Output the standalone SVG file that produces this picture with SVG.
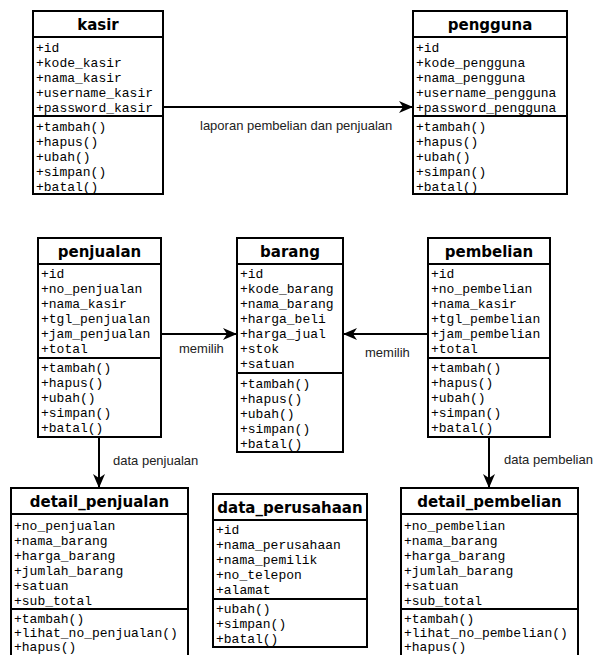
<svg xmlns="http://www.w3.org/2000/svg" width="594" height="655" viewBox="0 0 594 655">
<style>
.box{fill:#fff;stroke:#000;stroke-width:2}
.div{stroke:#000;stroke-width:2}
.t{font-family:"DejaVu Sans",sans-serif;font-weight:bold;font-size:15px;text-anchor:middle;fill:#000}
.m{font-family:"Liberation Mono",monospace;font-size:13px;fill:#000}
.lbl{font-family:"Liberation Sans",Arial,sans-serif;font-size:13px;fill:#222}
.con{stroke:#000;stroke-width:2;fill:none}
</style>
<defs>
<marker id="ah" viewBox="0 0 14 12" refX="13" refY="6" markerWidth="14" markerHeight="12" markerUnits="userSpaceOnUse" orient="auto">
<path d="M0,0 L14,6 L0,12 L4,6 Z" fill="#000"/>
</marker>
</defs>
<rect width="594" height="655" fill="#fff"/>

<g id="connectors">
<line class="con" x1="163" y1="107" x2="412" y2="107" marker-end="url(#ah)"/>
<text class="lbl" x="200" y="130">laporan pembelian dan penjualan</text>
<line class="con" x1="161" y1="334" x2="236" y2="334" marker-end="url(#ah)"/>
<text class="lbl" x="179" y="353">memilih</text>
<line class="con" x1="428" y1="334" x2="344" y2="334" marker-end="url(#ah)"/>
<text class="lbl" x="365" y="357">memilih</text>
<line class="con" x1="99" y1="437" x2="99" y2="487" marker-end="url(#ah)"/>
<text class="lbl" x="113" y="465">data penjualan</text>
<line class="con" x1="489" y1="437" x2="489" y2="487" marker-end="url(#ah)"/>
<text class="lbl" x="504" y="464">data pembelian</text>
</g>

<g id="kasir">
<rect class="box" x="33" y="11" width="130" height="183"/>
<line class="div" x1="33" y1="37" x2="163" y2="37"/>
<line class="div" x1="33" y1="116" x2="163" y2="116"/>
<text class="t" x="98" y="30">kasir</text>
<text class="m" x="36" y="52">+id</text>
<text class="m" x="36" y="67">+kode_kasir</text>
<text class="m" x="36" y="82">+nama_kasir</text>
<text class="m" x="36" y="97">+username_kasir</text>
<text class="m" x="36" y="112">+password_kasir</text>
<text class="m" x="36" y="131">+tambah()</text>
<text class="m" x="36" y="146">+hapus()</text>
<text class="m" x="36" y="161">+ubah()</text>
<text class="m" x="36" y="176">+simpan()</text>
<text class="m" x="36" y="191">+batal()</text>
</g>

<g id="pengguna">
<rect class="box" x="413" y="11" width="154" height="183"/>
<line class="div" x1="413" y1="37" x2="567" y2="37"/>
<line class="div" x1="413" y1="116" x2="567" y2="116"/>
<text class="t" x="490" y="30">pengguna</text>
<text class="m" x="416" y="52">+id</text>
<text class="m" x="416" y="67">+kode_pengguna</text>
<text class="m" x="416" y="82">+nama_pengguna</text>
<text class="m" x="416" y="97">+username_pengguna</text>
<text class="m" x="416" y="112">+password_pengguna</text>
<text class="m" x="416" y="131">+tambah()</text>
<text class="m" x="416" y="146">+hapus()</text>
<text class="m" x="416" y="161">+ubah()</text>
<text class="m" x="416" y="176">+simpan()</text>
<text class="m" x="416" y="191">+batal()</text>
</g>

<g id="penjualan">
<rect class="box" x="38" y="238" width="123" height="199"/>
<line class="div" x1="38" y1="264" x2="161" y2="264"/>
<line class="div" x1="38" y1="358" x2="161" y2="358"/>
<text class="t" x="99.5" y="257">penjualan</text>
<text class="m" x="41" y="278">+id</text>
<text class="m" x="41" y="293">+no_penjualan</text>
<text class="m" x="41" y="308">+nama_kasir</text>
<text class="m" x="41" y="323">+tgl_penjualan</text>
<text class="m" x="41" y="338">+jam_penjualan</text>
<text class="m" x="41" y="353">+total</text>
<text class="m" x="41" y="372">+tambah()</text>
<text class="m" x="41" y="387">+hapus()</text>
<text class="m" x="41" y="402">+ubah()</text>
<text class="m" x="41" y="417">+simpan()</text>
<text class="m" x="41" y="432">+batal()</text>
</g>

<g id="barang">
<rect class="box" x="237" y="238" width="106" height="214"/>
<line class="div" x1="237" y1="264" x2="343" y2="264"/>
<line class="div" x1="237" y1="373" x2="343" y2="373"/>
<text class="t" x="290" y="257">barang</text>
<text class="m" x="240" y="278">+id</text>
<text class="m" x="240" y="293">+kode_barang</text>
<text class="m" x="240" y="308">+nama_barang</text>
<text class="m" x="240" y="323">+harga_beli</text>
<text class="m" x="240" y="338">+harga_jual</text>
<text class="m" x="240" y="353">+stok</text>
<text class="m" x="240" y="368">+satuan</text>
<text class="m" x="240" y="388">+tambah()</text>
<text class="m" x="240" y="403">+hapus()</text>
<text class="m" x="240" y="418">+ubah()</text>
<text class="m" x="240" y="433">+simpan()</text>
<text class="m" x="240" y="448">+batal()</text>
</g>

<g id="pembelian">
<rect class="box" x="428" y="238" width="122" height="199"/>
<line class="div" x1="428" y1="264" x2="550" y2="264"/>
<line class="div" x1="428" y1="358" x2="550" y2="358"/>
<text class="t" x="489" y="257">pembelian</text>
<text class="m" x="431" y="278">+id</text>
<text class="m" x="431" y="293">+no_pembelian</text>
<text class="m" x="431" y="308">+nama_kasir</text>
<text class="m" x="431" y="323">+tgl_pembelian</text>
<text class="m" x="431" y="338">+jam_pembelian</text>
<text class="m" x="431" y="353">+total</text>
<text class="m" x="431" y="372">+tambah()</text>
<text class="m" x="431" y="387">+hapus()</text>
<text class="m" x="431" y="402">+ubah()</text>
<text class="m" x="431" y="417">+simpan()</text>
<text class="m" x="431" y="432">+batal()</text>
</g>

<g id="detail_penjualan">
<rect class="box" x="11" y="488" width="177" height="180"/>
<line class="div" x1="11" y1="514" x2="188" y2="514"/>
<line class="div" x1="11" y1="609" x2="188" y2="609"/>
<text class="t" x="99.5" y="507">detail_penjualan</text>
<text class="m" x="14" y="530">+no_penjualan</text>
<text class="m" x="14" y="545">+nama_barang</text>
<text class="m" x="14" y="560">+harga_barang</text>
<text class="m" x="14" y="575">+jumlah_barang</text>
<text class="m" x="14" y="590">+satuan</text>
<text class="m" x="14" y="605">+sub_total</text>
<text class="m" x="14" y="623">+tambah()</text>
<text class="m" x="14" y="637">+lihat_no_penjualan()</text>
<text class="m" x="14" y="651">+hapus()</text>
</g>

<g id="data_perusahaan">
<rect class="box" x="213" y="494" width="154" height="153"/>
<line class="div" x1="213" y1="520" x2="367" y2="520"/>
<line class="div" x1="213" y1="599" x2="367" y2="599"/>
<text class="t" x="290" y="513">data_perusahaan</text>
<text class="m" x="216" y="534">+id</text>
<text class="m" x="216" y="549">+nama_perusahaan</text>
<text class="m" x="216" y="564">+nama_pemilik</text>
<text class="m" x="216" y="579">+no_telepon</text>
<text class="m" x="216" y="594">+alamat</text>
<text class="m" x="216" y="613">+ubah()</text>
<text class="m" x="216" y="628">+simpan()</text>
<text class="m" x="216" y="643">+batal()</text>
</g>

<g id="detail_pembelian">
<rect class="box" x="401" y="488" width="177" height="180"/>
<line class="div" x1="401" y1="514" x2="578" y2="514"/>
<line class="div" x1="401" y1="609" x2="578" y2="609"/>
<text class="t" x="489.5" y="507">detail_pembelian</text>
<text class="m" x="404" y="530">+no_pembelian</text>
<text class="m" x="404" y="545">+nama_barang</text>
<text class="m" x="404" y="560">+harga_barang</text>
<text class="m" x="404" y="575">+jumlah_barang</text>
<text class="m" x="404" y="590">+satuan</text>
<text class="m" x="404" y="605">+sub_total</text>
<text class="m" x="404" y="623">+tambah()</text>
<text class="m" x="404" y="637">+lihat_no_pembelian()</text>
<text class="m" x="404" y="651">+hapus()</text>
</g>
</svg>
